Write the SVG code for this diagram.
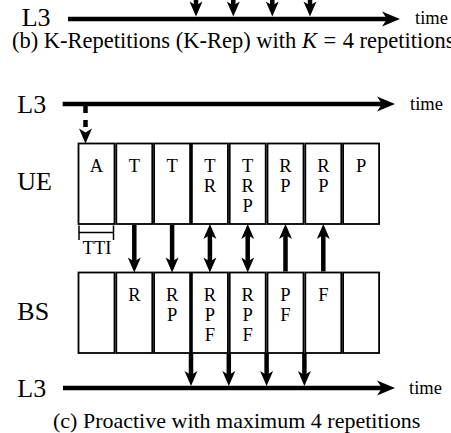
<svg xmlns="http://www.w3.org/2000/svg" xmlns:xlink="http://www.w3.org/1999/xlink" width="451" height="433" viewBox="0 0 451 433">
<style>
text{font-family:"Liberation Serif","Times New Roman",serif;fill:#000}
.big{font-size:26px}
.time{font-size:18.5px}
.cap{font-size:22px}
.capb{font-size:22.5px}
.lbl{font-size:18.5px;text-anchor:middle}
.box{fill:#fff;stroke:#000;stroke-width:1.8}
.shaft{stroke:#000;stroke-width:4.5;fill:none}
.thin{stroke:#000;stroke-width:1.5;fill:none}
</style>
<defs>
<path id="ahd" d="M0,0 L-6.5,-15 L0,-11 L6.5,-15 Z" fill="#000"/>
<path id="ahr" d="M0,0 L-18,-7.5 L-13,0 L-18,7.5 Z" fill="#000"/>
</defs>
<rect width="451" height="433" fill="#fff"/>

<g id="b-timeline">
<text class="big" x="21.7" y="26">L3</text>
<line class="shaft" x1="68" y1="19" x2="388" y2="19"/>
<use xlink:href="#ahr" transform="translate(400,19)"/>
<text class="time" x="415" y="24">time</text>
</g>
<g id="b-arrows">
<line class="shaft" x1="196" y1="-2" x2="196" y2="6"/><use xlink:href="#ahd" transform="translate(196,16.5)"/>
<line class="shaft" x1="233.3" y1="-2" x2="233.3" y2="6"/><use xlink:href="#ahd" transform="translate(233.3,16.5)"/>
<line class="shaft" x1="272.3" y1="-2" x2="272.3" y2="6"/><use xlink:href="#ahd" transform="translate(272.3,16.5)"/>
<line class="shaft" x1="310" y1="-2" x2="310" y2="6"/><use xlink:href="#ahd" transform="translate(310,16.5)"/>
</g>
<text id="caption-b" class="capb" x="12" y="48">(b) K-Repetitions (K-Rep) with <tspan font-style="italic">K</tspan><tspan dx="6.5">=</tspan><tspan dx="6.5">4 repetitions</tspan></text>

<g id="l3-top">
<text class="big" x="17.3" y="113">L3</text>
<line class="shaft" x1="62.7" y1="104" x2="383" y2="104"/>
<use xlink:href="#ahr" transform="translate(395,104)"/>
<text class="time" x="410" y="110">time</text>
</g>
<g id="l3-to-ue">
<line class="shaft" x1="85.5" y1="106" x2="85.5" y2="132" stroke-dasharray="7,7"/>
<use xlink:href="#ahd" transform="translate(85.5,143.5)"/>
</g>

<text id="ue-label" class="big" x="17.3" y="190">UE</text>
<text id="bs-label" class="big" x="17.3" y="319.5">BS</text>

<g id="ue-row">
<g id="ue1"><rect class="box" x="78.5" y="143.5" width="36" height="80.5"/><text class="lbl" x="96.5" y="172">A</text></g>
<g id="ue2"><rect class="box" x="116.3" y="143.5" width="36" height="80.5"/><text class="lbl" x="134.3" y="172">T</text></g>
<g id="ue3"><rect class="box" x="154.1" y="143.5" width="36" height="80.5"/><text class="lbl" x="172.1" y="172">T</text></g>
<g id="ue4"><rect class="box" x="191.9" y="143.5" width="36" height="80.5"/><text class="lbl" x="209.9" y="172">T</text><text class="lbl" x="209.9" y="192">R</text></g>
<g id="ue5"><rect class="box" x="229.7" y="143.5" width="36" height="80.5"/><text class="lbl" x="247.7" y="172">T</text><text class="lbl" x="247.7" y="192">R</text><text class="lbl" x="247.7" y="212">P</text></g>
<g id="ue6"><rect class="box" x="267.5" y="143.5" width="36" height="80.5"/><text class="lbl" x="285.5" y="172">R</text><text class="lbl" x="285.5" y="192">P</text></g>
<g id="ue7"><rect class="box" x="305.3" y="143.5" width="36" height="80.5"/><text class="lbl" x="323.3" y="172">R</text><text class="lbl" x="323.3" y="192">P</text></g>
<g id="ue8"><rect class="box" x="343.1" y="143.5" width="36" height="80.5"/><text class="lbl" x="361.1" y="172">P</text></g>
</g>

<g id="tti">
<line class="thin" x1="79" y1="225.5" x2="79" y2="240"/>
<line class="thin" x1="113.5" y1="225.5" x2="113.5" y2="240"/>
<line class="thin" x1="79" y1="232.5" x2="113.5" y2="232.5"/>
<text class="lbl" x="97" y="254">TTI</text>
</g>

<g id="bs-row">
<g id="bs1"><rect class="box" x="78.5" y="272.5" width="36" height="80.5"/></g>
<g id="bs2"><rect class="box" x="116.3" y="272.5" width="36" height="80.5"/><text class="lbl" x="134.3" y="301">R</text></g>
<g id="bs3"><rect class="box" x="154.1" y="272.5" width="36" height="80.5"/><text class="lbl" x="172.1" y="301">R</text><text class="lbl" x="172.1" y="321">P</text></g>
<g id="bs4"><rect class="box" x="191.9" y="272.5" width="36" height="80.5"/><text class="lbl" x="209.9" y="301">R</text><text class="lbl" x="209.9" y="321">P</text><text class="lbl" x="209.9" y="341">F</text></g>
<g id="bs5"><rect class="box" x="229.7" y="272.5" width="36" height="80.5"/><text class="lbl" x="247.7" y="301">R</text><text class="lbl" x="247.7" y="321">P</text><text class="lbl" x="247.7" y="341">F</text></g>
<g id="bs6"><rect class="box" x="267.5" y="272.5" width="36" height="80.5"/><text class="lbl" x="285.5" y="301">P</text><text class="lbl" x="285.5" y="321">F</text></g>
<g id="bs7"><rect class="box" x="305.3" y="272.5" width="36" height="80.5"/><text class="lbl" x="323.3" y="301">F</text></g>
<g id="bs8"><rect class="box" x="343.1" y="272.5" width="36" height="80.5"/></g>
</g>

<g id="connectors">
<line class="shaft" x1="134.3" y1="225" x2="134.3" y2="262"/><use xlink:href="#ahd" transform="translate(134.3,272.5)"/>
<line class="shaft" x1="172.1" y1="225" x2="172.1" y2="262"/><use xlink:href="#ahd" transform="translate(172.1,272.5)"/>
<line class="shaft" x1="209.9" y1="235" x2="209.9" y2="262"/><use xlink:href="#ahd" transform="translate(209.9,272.5)"/><use xlink:href="#ahd" transform="translate(209.9,224) rotate(180)"/>
<line class="shaft" x1="247.7" y1="235" x2="247.7" y2="262"/><use xlink:href="#ahd" transform="translate(247.7,272.5)"/><use xlink:href="#ahd" transform="translate(247.7,224) rotate(180)"/>
<line class="shaft" x1="285.5" y1="235" x2="285.5" y2="271.5"/><use xlink:href="#ahd" transform="translate(285.5,224) rotate(180)"/>
<line class="shaft" x1="323.3" y1="235" x2="323.3" y2="271.5"/><use xlink:href="#ahd" transform="translate(323.3,224) rotate(180)"/>
<line class="shaft" x1="191" y1="353" x2="191" y2="376"/><use xlink:href="#ahd" transform="translate(191,386)"/>
<line class="shaft" x1="228.8" y1="353" x2="228.8" y2="376"/><use xlink:href="#ahd" transform="translate(228.8,386)"/>
<line class="shaft" x1="266.6" y1="353" x2="266.6" y2="376"/><use xlink:href="#ahd" transform="translate(266.6,386)"/>
<line class="shaft" x1="304.4" y1="353" x2="304.4" y2="376"/><use xlink:href="#ahd" transform="translate(304.4,386)"/>
</g>

<g id="l3-bottom">
<text class="big" x="17.3" y="397">L3</text>
<line class="shaft" x1="63" y1="388" x2="383" y2="388"/>
<use xlink:href="#ahr" transform="translate(395,388)"/>
<text class="time" x="409" y="394">time</text>
</g>
<text id="caption-c" class="cap" x="53" y="428">(c) Proactive with maximum 4 repetitions</text>
</svg>
